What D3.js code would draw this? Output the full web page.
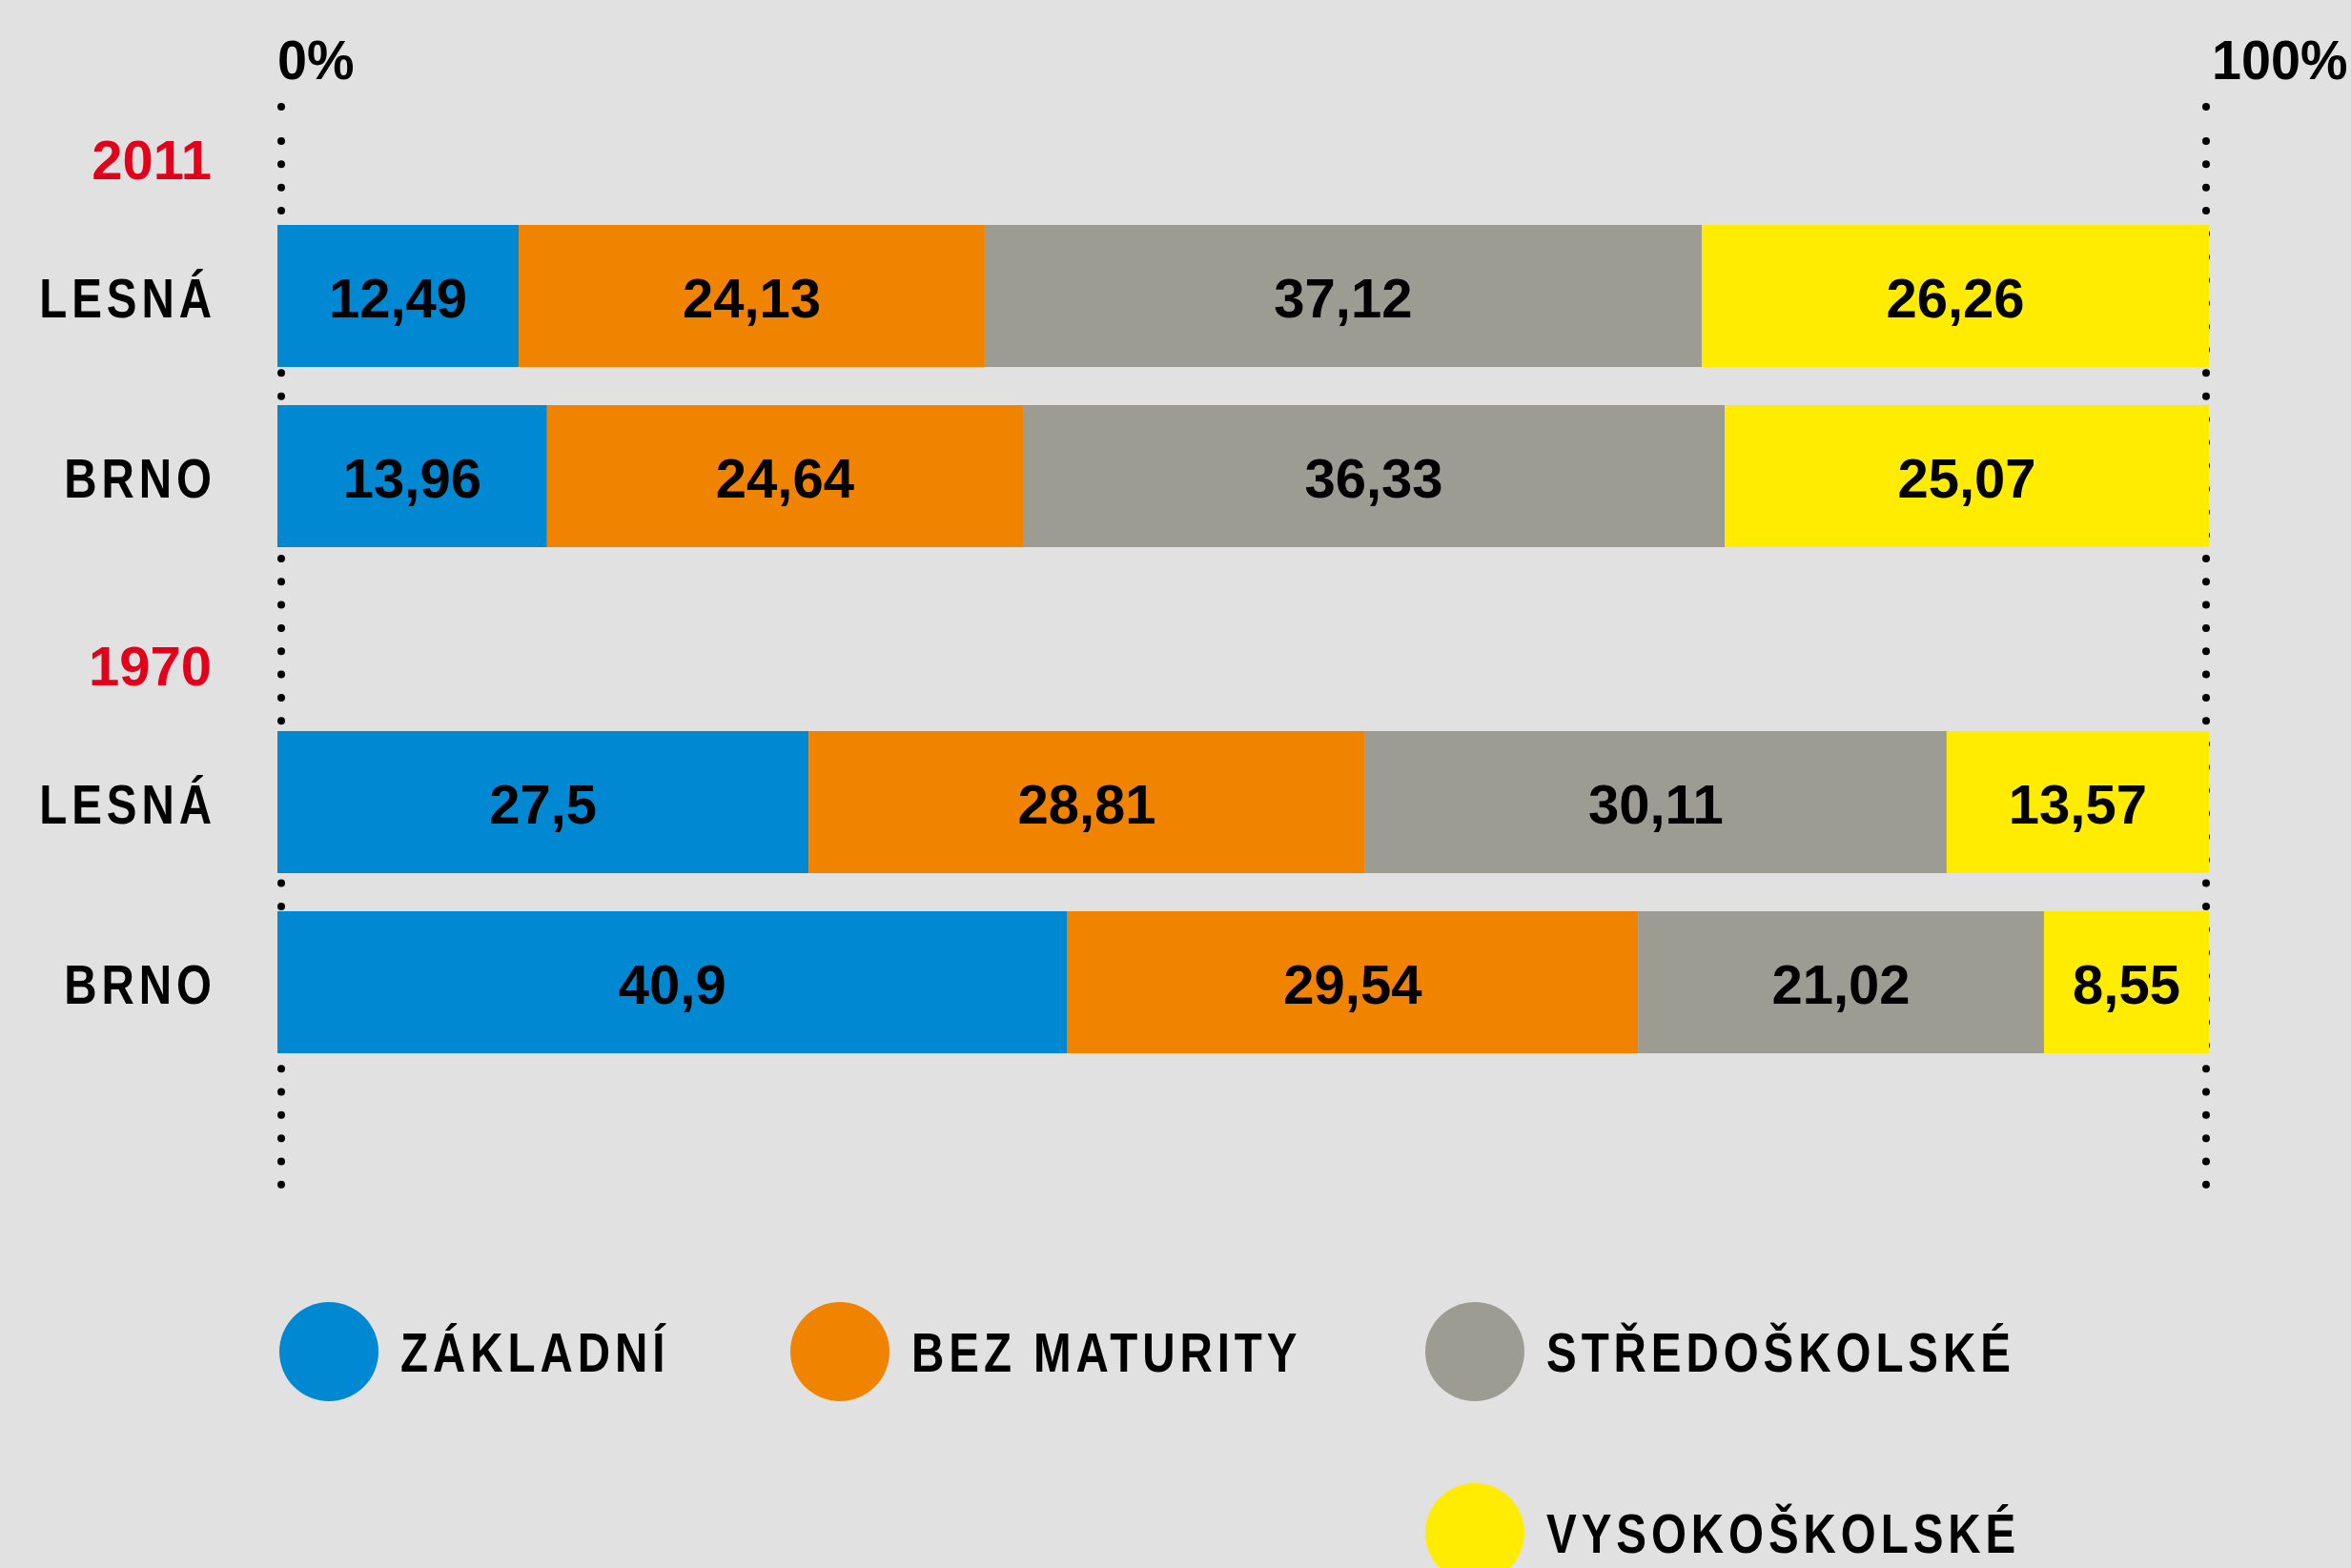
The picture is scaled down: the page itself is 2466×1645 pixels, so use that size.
<!DOCTYPE html>
<html>
<head>
<meta charset="utf-8">
<script src="https://cdn.jsdelivr.net/npm/d3@7"></script>
<style>
  html, body { margin: 0; padding: 0; background: #e1e1e1; }
  svg { display: block; }
  .num { font-family: "Liberation Sans", Arial, sans-serif; font-weight: bold; }
  .word { font-family: "Liberation Sans", Arial, sans-serif; font-weight: bold; letter-spacing: 6px; }
</style>
</head>
<body>
<svg id="chart" width="2466" height="1645"></svg>
<script>
// data
var years = ["2011", "1970"],
	places = ["LESNÁ", "BRNO"],
	categories = ["ZÁKLADNÍ", "BEZ MATURITY", "STŘEDOŠKOLSKÉ", "VYSOKOŠKOLSKÉ"],
	colors = ["#0089d2", "#f08300", "#9d9c93", "#ffec00"],
	lesna2011 = [12.49, 24.13, 37.12, 26.26],
	brno2011 = [13.96, 24.64, 36.33, 25.07],
	lesna1970 = [27.5, 28.81, 30.11, 13.57],
	brno1970 = [40.9, 29.54, 21.02, 8.55],
	axisTicks = [0, 100];

var rows = [
	{year: "2011", place: "LESNÁ", values: lesna2011},
	{year: "2011", place: "BRNO", values: brno2011},
	{year: "1970", place: "LESNÁ", values: lesna1970},
	{year: "1970", place: "BRNO", values: brno1970}
];

var svg = d3.select("#chart"),
	fontSize = 58,
	narrow = 0.82; // the original face is condensed

var x = d3.scaleLinear().domain([0, 100]).range([291, 2317]);

// year groups, then the two places inside each group
var yGroup = d3.scaleBand().domain(years).range([100, 100 + 531 * 2]);
var yRow = d3.scaleBand().domain(places).range([136, 474]).paddingInner(40 / 189);

function rowTop(d) { return yGroup(d.year) + yRow(d.place); }

var color = d3.scaleOrdinal().domain(categories).range(colors);

// --- DOTTED GUIDES --- //
var dotY = d3.range(0, 46).map(function(i) { return 148 + i * 24.33; });
dotY.unshift(112);
axisTicks.forEach(function(t) {
	var gx = t === 0 ? x(t) + 4 : x(t) - 3;
	svg.append("g").selectAll("circle")
		.data(dotY)
	  .enter().append("circle")
		.attr("cx", gx)
		.attr("cy", function(d) { return d; })
		.attr("r", 4)
		.attr("fill", "#000");
});

// axis labels
svg.selectAll(".tick-label")
	.data(axisTicks)
  .enter().append("text")
	.attr("class", "tick-label num")
	.attr("transform", function(d) {
		return "translate(" + (d === 0 ? x(d) : x(d) + 3) + ",83) scale(0.96,1)";
	})
	.attr("font-size", fontSize)
	.text(function(d) { return d + "%"; });

// year labels
svg.selectAll(".year")
	.data(years)
  .enter().append("text")
	.attr("class", "year num")
	.attr("x", 222)
	.attr("y", function(d) { return yGroup(d) + 88; })
	.attr("text-anchor", "end")
	.attr("font-size", fontSize)
	.attr("fill", "#e2001a")
	.text(function(d) { return d; });

// --- BARS --- //
var stack = d3.stack().keys(d3.range(categories.length))
	.value(function(d, k) { return d.values[k]; });
var series = stack(rows);

var row = svg.selectAll(".row")
	.data(rows)
  .enter().append("g")
	.attr("class", "row")
	.attr("transform", function(d) { return "translate(0," + rowTop(d) + ")"; });

row.append("text")
	.attr("class", "word")
	.attr("transform", "translate(" + (222 + 6 * narrow) + "," + (yRow.bandwidth() / 2 + 22) + ") scale(" + narrow + ",1)")
	.attr("text-anchor", "end")
	.attr("font-size", fontSize)
	.text(function(d) { return d.place; });

series.forEach(function(s, k) {
	row.each(function(d, i) {
		var seg = s[i],
			g = d3.select(this),
			x0 = x(seg[0]),
			x1 = k === categories.length - 1 ? x(100) : x(seg[1]);
		g.append("rect")
			.attr("x", x0)
			.attr("y", 0)
			.attr("width", x1 - x0)
			.attr("height", yRow.bandwidth())
			.attr("fill", color(categories[k]));
		g.append("text")
			.attr("class", "num")
			.attr("x", (x0 + x1) / 2)
			.attr("y", yRow.bandwidth() / 2 + 22)
			.attr("text-anchor", "middle")
			.attr("font-size", fontSize)
			.text(String(d.values[k]).replace(".", ","));
	});
});

// --- LEGEND --- //
var legendSlots = [[345, 1418], [881, 1418], [1547, 1418], [1547, 1608]];
var legend = svg.selectAll(".legend")
	.data(categories)
  .enter().append("g")
	.attr("class", "legend")
	.attr("transform", function(d, i) { return "translate(" + legendSlots[i][0] + "," + legendSlots[i][1] + ")"; });

legend.append("circle")
	.attr("r", 52)
	.attr("fill", function(d) { return color(d); });

legend.append("text")
	.attr("class", "word")
	.attr("transform", "translate(75,21) scale(" + narrow + ",1)")
	.attr("font-size", fontSize)
	.text(function(d) { return d; });
</script>
</body>
</html>
